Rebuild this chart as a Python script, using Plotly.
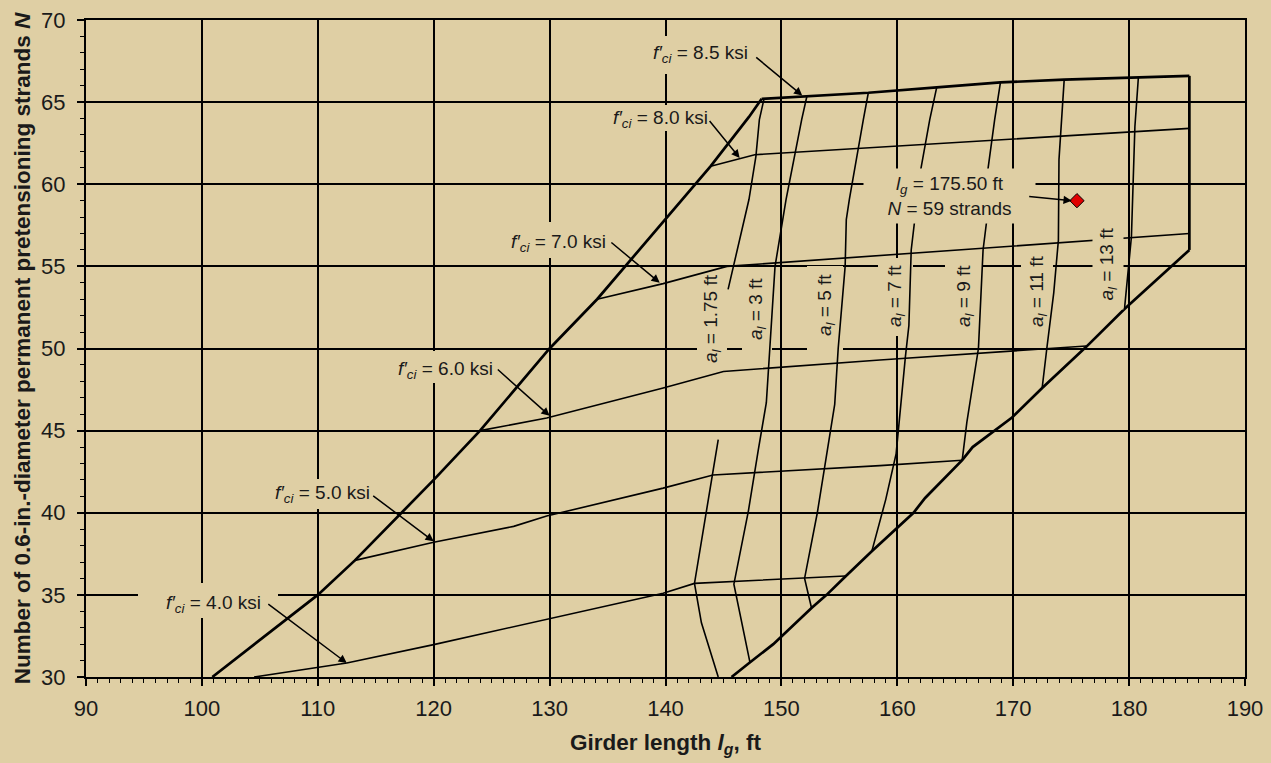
import plotly.graph_objects as go

# ---------------- data ----------------
# thick outer boundary pieces
left_bound_x = [100.9, 110.0, 113.2, 117.2, 120.0, 124.0, 130.0, 134.1, 139.8, 143.9, 147.2, 148.3]
left_bound_y = [30.0, 35.0, 37.1, 40.0, 42.0, 45.0, 50.0, 53.0, 57.75, 61.1, 64.1, 65.2]

top_85_x = [148.3, 152.2, 157.5, 163.4, 168.9, 174.4, 180.8, 185.2]
top_85_y = [65.2, 65.36, 65.57, 65.9, 66.2, 66.37, 66.5, 66.6]

right_vert_x = [185.2, 185.2]
right_vert_y = [66.6, 56.0]

right_bound_x = [185.2, 182.4, 179.6, 176.3, 172.5, 169.9, 166.5, 165.6, 162.4, 161.4,
                 159.6, 157.8, 155.5, 153.9, 152.6, 149.9, 149.3, 147.3, 145.7]
right_bound_y = [56.0, 54.2, 52.4, 50.1, 47.6, 45.8, 44.0, 43.2, 40.9, 40.0,
                 38.85, 37.65, 36.1, 35.0, 34.2, 32.4, 32.0, 30.9, 30.0]

# f'ci lines (thin)
fci40_x = [104.5, 112.5, 120.0, 129.75, 139.8, 142.5, 155.5]
fci40_y = [30.0, 30.85, 31.97, 33.5, 35.1, 35.7, 36.15]
fci50_x = [113.2, 120.0, 126.9, 129.75, 139.8, 144.1, 158.5, 165.6]
fci50_y = [37.1, 38.2, 39.17, 39.8, 41.5, 42.3, 42.87, 43.2]
fci60_x = [124.0, 129.75, 139.8, 145.0, 158.5, 176.3]
fci60_y = [45.0, 45.77, 47.6, 48.6, 49.3, 50.15]
fci70_x = [134.1, 139.8, 145.3, 176.8, 185.2]
fci70_y = [53.0, 53.95, 55.0, 56.6, 57.0]
fci80_x = [143.9, 147.7, 185.2]
fci80_y = [61.1, 61.8, 63.4]

# a_l lines (thin); None marks a break in the drawn curve
al175_x = [148.5, 148.1, 147.8, 147.2, 145.4, None, 144.55, 142.5, 143.1, 144.55]
al175_y = [65.2, 63.94, 61.7, 59.07, 53.6, None, 44.45, 35.7, 33.3, 30.0]
al3_x = [152.2, 151.75, 150.4, 149.45, 149.0, 148.7, 148.0, 147.15, 145.9, 147.3]
al3_y = [65.36, 63.94, 59.07, 55.0, 50.0, 46.7, 43.8, 40.1, 35.65, 30.85]
al5_x = [157.5, 157.07, 155.86, 155.6, 155.5, 154.9, 154.6, 153.1, 152.0, 152.6]
al5_y = [65.57, 63.94, 59.07, 57.85, 55.0, 50.0, 46.6, 40.0, 36.0, 34.2]
al7_x = [163.4, 162.8, 162.0, 161.5, 161.2, 161.0, 160.7, 159.9, 159.0, 157.8]
al7_y = [65.9, 63.94, 60.8, 57.7, 56.0, 51.4, 49.5, 43.6, 40.8, 37.65]
al9_x = [168.9, 168.4, 167.8, 167.7, 167.4, 167.0, 166.0, 165.6]
al9_y = [66.2, 63.94, 60.8, 57.7, 56.0, 50.0, 45.5, 43.2]
al11_x = [174.4, 174.2, 173.95, 173.9, 173.5, 172.9, 172.5]
al11_y = [66.37, 63.94, 61.5, 56.6, 53.4, 50.0, 47.6]
al13_x = [180.8, 180.5, 180.2, 179.6]
al13_y = [66.5, 63.5, 56.8, 52.4]

# design point
point_lg = [175.50]
point_n = [59]

# label texts
fci_values = ["8.5", "8.0", "7.0", "6.0", "5.0", "4.0"]
al_values = ["1.75", "3", "5", "7", "9", "11", "13"]
x_ticks = [90, 100, 110, 120, 130, 140, 150, 160, 170, 180, 190]
y_ticks = [30, 35, 40, 45, 50, 55, 60, 65, 70]

# ---------------- layout helpers ----------------
BG = "#DFCFA4"
W, H = 1271, 763
ML, MR, MT, MB = 86, 26, 20, 86
PW, PH = W - ML - MR, H - MT - MB
KX, KY = 100.0 / PW, 40.0 / PH
FAMILY = "Arial, Liberation Sans, sans-serif"


def px2x(px):
    return 90 + (px - ML) * KX


def px2y(py):
    return 70 - (py - MT) * KY


fig = go.Figure()


def add_line(x, y, w):
    fig.add_trace(go.Scatter(x=x, y=y, mode="lines", line=dict(color="black", width=w),
                             hoverinfo="skip", showlegend=False, connectgaps=False))


THICK, THIN = 2.7, 1.6
for xs, ys in [(left_bound_x, left_bound_y), (top_85_x, top_85_y),
               (right_vert_x, right_vert_y), (right_bound_x, right_bound_y)]:
    add_line(xs, ys, THICK)
for xs, ys in [(fci40_x, fci40_y), (fci50_x, fci50_y), (fci60_x, fci60_y),
               (fci70_x, fci70_y), (fci80_x, fci80_y),
               (al175_x, al175_y), (al3_x, al3_y), (al5_x, al5_y), (al7_x, al7_y),
               (al9_x, al9_y), (al11_x, al11_y), (al13_x, al13_y)]:
    add_line(xs, ys, THIN)

fig.add_trace(go.Scatter(x=point_lg, y=point_n, mode="markers",
                         marker=dict(symbol="diamond", size=11, color="#E00000",
                                     line=dict(color="black", width=1)),
                         hoverinfo="skip", showlegend=False))

shapes = []
annotations = []
FONT = dict(family=FAMILY, size=19, color="#1a1a1a")

# f'ci labels: text centre (px), box (px), arrow tail & tip (data)
fci_text_px = [(700, 54), (660, 119), (558, 242.5), (445, 370), (322, 493.5), (213, 603.5)]
fci_box_px = [(700, 55, 118, 38), (660, 118, 108, 26), (558, 240, 108, 36),
              (445, 367, 108, 32), (322, 494, 108, 30), (208, 600.5, 140, 35)]
fci_arrows = [((147.7, 67.8), (151.8, 65.4)), ((143.7, 63.94), (146.4, 61.6)),
              ((135.2, 56.53), (139.5, 54.0)), ((125.4, 48.8), (130.0, 45.9)),
              ((114.65, 41.1), (120.0, 38.26)), ((105.6, 34.5), (112.5, 30.85))]

for val, (tx, ty), (bx, by, bw, bh), (tail, tip) in zip(fci_values, fci_text_px, fci_box_px, fci_arrows):
    shapes.append(dict(type="rect", xref="x", yref="y", layer="between",
                       x0=px2x(bx - bw / 2), x1=px2x(bx + bw / 2),
                       y0=px2y(by + bh / 2), y1=px2y(by - bh / 2),
                       fillcolor=BG, line=dict(width=0)))
    annotations.append(dict(x=px2x(tx), y=px2y(ty), xref="x", yref="y", showarrow=False,
                            text="<i>f\u2032<sub>ci</sub></i> = %s ksi" % val, font=FONT))
    annotations.append(dict(x=tip[0], y=tip[1], ax=tail[0], ay=tail[1], xref="x", yref="y",
                            axref="x", ayref="y", text="", showarrow=True, arrowhead=2,
                            arrowsize=1.1, arrowwidth=1.5, arrowcolor="black", standoff=0))

# a_l labels: text centre (px), box extents (px: x0, x1, y0, y1)
al_text_px = [(712, 319), (757, 309), (826, 305), (896, 296), (965, 296), (1038, 292), (1108, 264)]
al_box_px = [(697, 727, 270, 368), (742, 772, 270, 356), (807, 843, 266, 356),
             (878, 913, 258, 336), (945, 983, 258, 336), (1021, 1053, 248, 338)]

for i, val in enumerate(al_values):
    tx, ty = al_text_px[i]
    txt = "<i>a<sub>l</sub></i> = %s ft" % val
    if i < len(al_box_px):
        x0, x1, y0, y1 = al_box_px[i]
        shapes.append(dict(type="rect", xref="x", yref="y", layer="between",
                           x0=px2x(x0), x1=px2x(x1), y0=px2y(y1), y1=px2y(y0),
                           fillcolor=BG, line=dict(width=0)))
        annotations.append(dict(x=px2x(tx), y=px2y(ty), xref="x", yref="y", showarrow=False,
                                text=txt, textangle=-90, font=FONT))
    else:
        # this label box also hides the curve beneath it
        annotations.append(dict(x=px2x(tx), y=px2y(ty), xref="x", yref="y", showarrow=False,
                                text=txt, textangle=-90, font=FONT, bgcolor=BG,
                                width=90, height=30, borderpad=0))

# design point label (box hides grid lines and curves beneath it)
annotations.append(dict(x=px2x(949.5), y=px2y(196), xref="x", yref="y", showarrow=False,
                        text="<i>l<sub>g</sub></i> = %.2f ft<br><i>N</i> = %d strands" % (point_lg[0], point_n[0]),
                        font=FONT, bgcolor=BG, width=171, height=54, borderpad=0, align="center"))
annotations.append(dict(x=point_lg[0] - 0.45, y=point_n[0], ax=171.25, ay=59.27, xref="x", yref="y",
                        axref="x", ayref="y", text="", showarrow=True, arrowhead=2,
                        arrowsize=1.1, arrowwidth=1.5, arrowcolor="black", standoff=0))

axis_common = dict(showgrid=True, gridcolor="black", gridwidth=1.6, zeroline=False,
                   showline=True, linecolor="black", linewidth=2, mirror=True, automargin=False,
                   ticks="outside", ticklen=7, tickwidth=1.6, tickcolor="black",
                   tickfont=dict(family=FAMILY, size=22, color="#1a1a1a"))
minor_ticks = dict(dtick=1, ticks="outside", ticklen=4, tickwidth=1.2, tickcolor="black", showgrid=False)
title_font = dict(family=FAMILY, size=22.5, color="#1a1a1a")

fig.update_layout(
    width=W, height=H, margin=dict(l=ML, r=MR, t=MT, b=MB, autoexpand=False),
    paper_bgcolor=BG, plot_bgcolor=BG,
    shapes=shapes, annotations=annotations,
    xaxis=dict(range=[90, 190], tickvals=x_ticks, ticklabelstandoff=4, minor=minor_ticks,
               title=dict(text="<b>Girder length <i>l<sub>g</sub></i>, ft</b>", standoff=14, font=title_font),
               **axis_common),
    yaxis=dict(range=[30, 70], tickvals=y_ticks, ticklabelstandoff=7, minor=minor_ticks,
               title=dict(text="<b>Number of 0.6-in.-diameter permanent pretensioning strands <i>N</i></b>",
                          standoff=4, font=title_font),
               **axis_common),
)

fig.write_html("out.html")
